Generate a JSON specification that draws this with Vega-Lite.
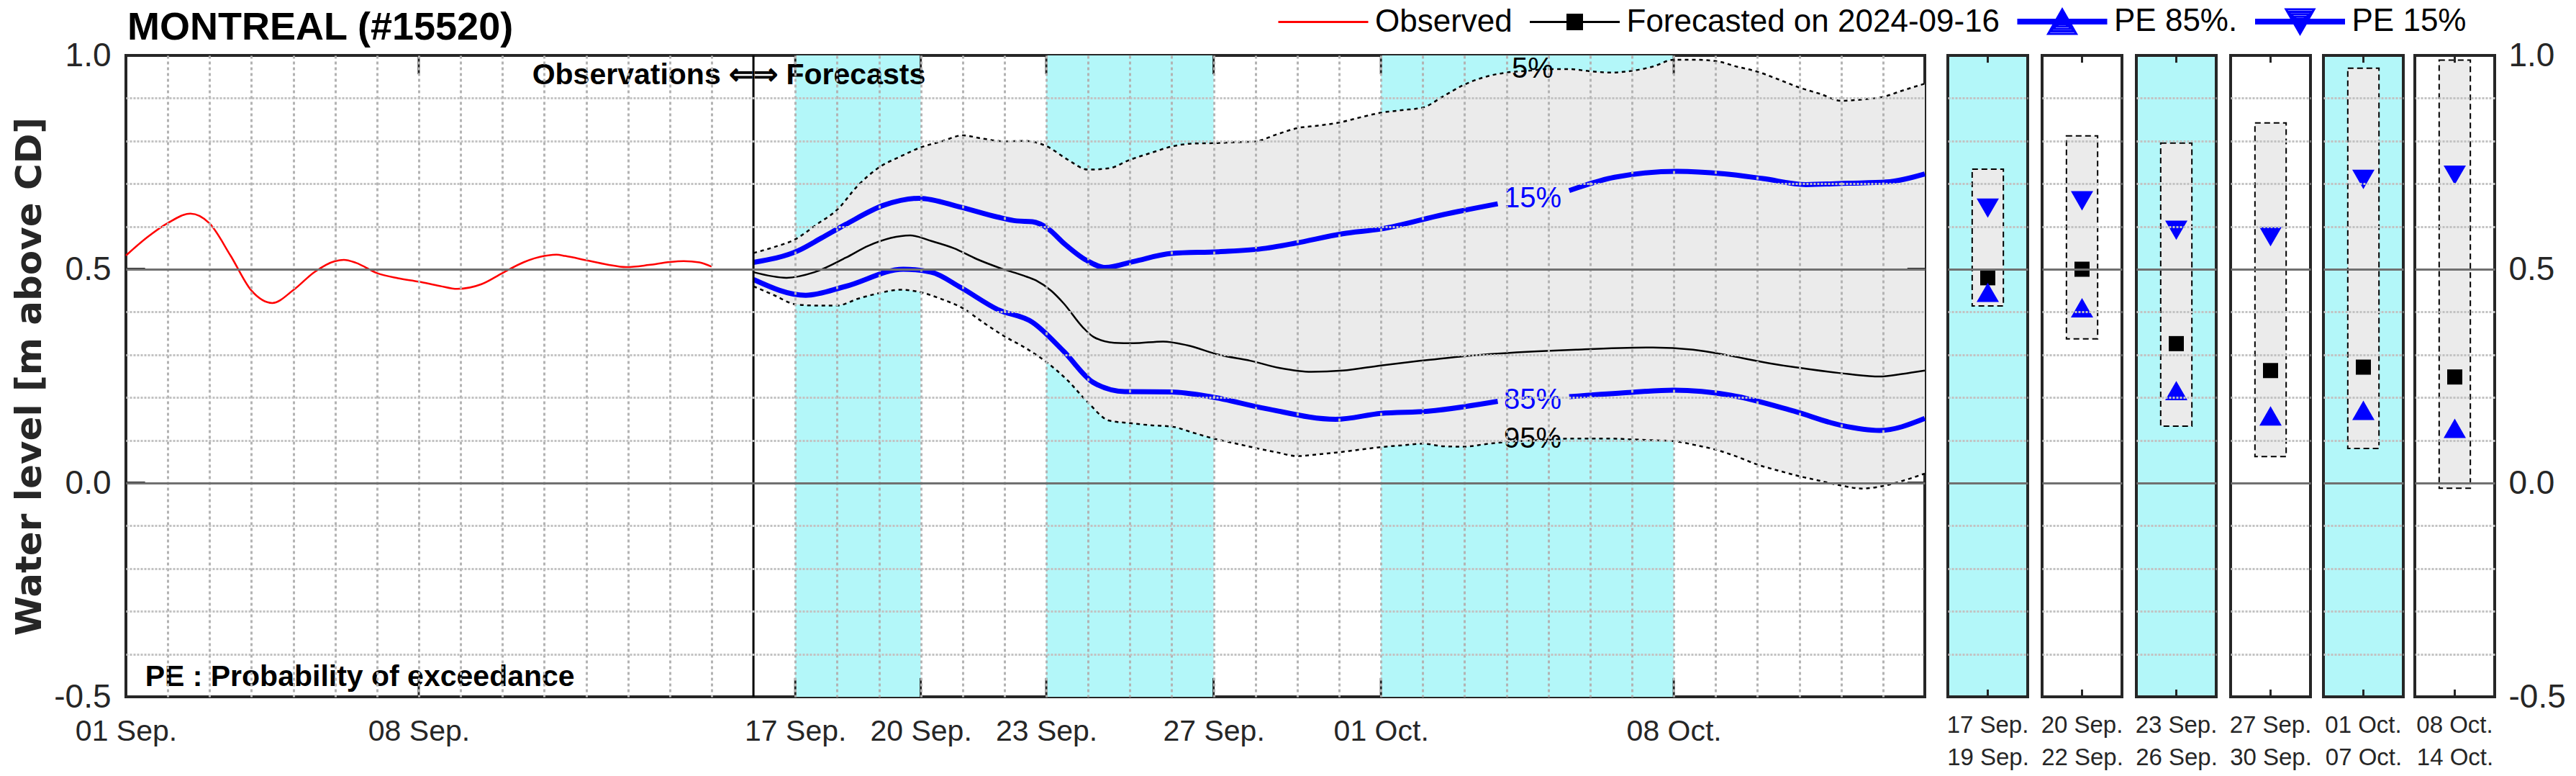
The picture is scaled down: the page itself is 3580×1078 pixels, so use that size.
{
 "$schema": "https://vega.github.io/schema/vega-lite/v6.json",
 "background": "white",
 "padding": {"left": 14, "top": 8, "right": 0, "bottom": 0},
 "config": {
  "font": "Liberation Sans",
  "view": {"stroke": "#262626", "strokeWidth": 4},
  "axis": {"labelColor": "#262626", "titleColor": "#262626"}
 },
 "datasets": {
  "cyan": [
   {"a": "2024-09-17T00:00", "b": "2024-09-20T00:00"},
   {"a": "2024-09-23T00:00", "b": "2024-09-27T00:00"},
   {"a": "2024-10-01T00:00", "b": "2024-10-08T00:00"}
  ],
  "ticks": [
   {"d": "2024-09-08T00:00"}, {"d": "2024-09-17T00:00"}, {"d": "2024-09-20T00:00"}, {"d": "2024-09-23T00:00"},
   {"d": "2024-09-27T00:00"}, {"d": "2024-10-01T00:00"}, {"d": "2024-10-08T00:00"}
  ],
  "divider": [{"d": "2024-09-16T00:00"}],
  "yticks": [
   {"v": 0, "a": "2024-09-01T00:00", "b": "2024-09-01T11:00"},
   {"v": 0.5, "a": "2024-09-01T00:00", "b": "2024-09-01T11:00"},
   {"v": 0, "a": "2024-10-13T14:00", "b": "2024-10-14T00:00"},
   {"v": 0.5, "a": "2024-10-13T14:00", "b": "2024-10-14T00:00"}
  ],
  "title": [{"t": "2024-09-01T00:00", "v": 1.064, "txt": "MONTREAL (#15520)"}],
  "notes": [
   {"t": "2024-09-16T00:00", "v": 0.953, "txt": "Observations ⇐", "k": "r"},
   {"t": "2024-09-16T00:00", "v": 0.953, "txt": "⇒ Forecasts", "k": "l"},
   {"t": "2024-09-01T11:00", "v": -0.455, "txt": "PE : Probability of exceedance", "k": "l"}
  ],
  "pct": [
   {"t": "2024-10-04T15:00", "v": 0.968, "txt": "5%"},
   {"t": "2024-10-04T15:00", "v": 0.665, "txt": "15%"},
   {"t": "2024-10-04T15:00", "v": 0.193, "txt": "85%"},
   {"t": "2024-10-04T15:00", "v": 0.103, "txt": "95%"}
  ],
  "band": [
   {"t": "2024-09-16T00:00", "lo": 0.460, "hi": 0.538},
   {"t": "2024-09-16T12:00", "lo": 0.439, "hi": 0.552},
   {"t": "2024-09-17T00:00", "lo": 0.418, "hi": 0.570},
   {"t": "2024-09-17T12:00", "lo": 0.415, "hi": 0.604},
   {"t": "2024-09-18T00:00", "lo": 0.415, "hi": 0.639},
   {"t": "2024-09-18T12:00", "lo": 0.431, "hi": 0.696},
   {"t": "2024-09-19T00:00", "lo": 0.444, "hi": 0.738},
   {"t": "2024-09-19T12:00", "lo": 0.452, "hi": 0.763},
   {"t": "2024-09-20T00:00", "lo": 0.446, "hi": 0.785},
   {"t": "2024-09-20T12:00", "lo": 0.430, "hi": 0.799},
   {"t": "2024-09-21T00:00", "lo": 0.409, "hi": 0.813},
   {"t": "2024-09-21T12:00", "lo": 0.375, "hi": 0.805},
   {"t": "2024-09-22T00:00", "lo": 0.343, "hi": 0.799},
   {"t": "2024-09-22T12:00", "lo": 0.316, "hi": 0.800},
   {"t": "2024-09-23T00:00", "lo": 0.283, "hi": 0.788},
   {"t": "2024-09-23T12:00", "lo": 0.241, "hi": 0.757},
   {"t": "2024-09-24T00:00", "lo": 0.188, "hi": 0.733},
   {"t": "2024-09-24T12:00", "lo": 0.146, "hi": 0.736},
   {"t": "2024-09-25T00:00", "lo": 0.140, "hi": 0.756},
   {"t": "2024-09-25T12:00", "lo": 0.135, "hi": 0.772},
   {"t": "2024-09-26T00:00", "lo": 0.132, "hi": 0.787},
   {"t": "2024-09-26T12:00", "lo": 0.118, "hi": 0.794},
   {"t": "2024-09-27T00:00", "lo": 0.104, "hi": 0.795},
   {"t": "2024-09-27T12:00", "lo": 0.093, "hi": 0.797},
   {"t": "2024-09-28T00:00", "lo": 0.082, "hi": 0.799},
   {"t": "2024-09-28T12:00", "lo": 0.072, "hi": 0.815},
   {"t": "2024-09-29T00:00", "lo": 0.063, "hi": 0.830},
   {"t": "2024-09-29T12:00", "lo": 0.067, "hi": 0.836},
   {"t": "2024-09-30T00:00", "lo": 0.072, "hi": 0.843},
   {"t": "2024-09-30T12:00", "lo": 0.078, "hi": 0.855},
   {"t": "2024-10-01T00:00", "lo": 0.084, "hi": 0.866},
   {"t": "2024-10-01T12:00", "lo": 0.088, "hi": 0.872},
   {"t": "2024-10-02T00:00", "lo": 0.092, "hi": 0.878},
   {"t": "2024-10-02T12:00", "lo": 0.086, "hi": 0.905},
   {"t": "2024-10-03T00:00", "lo": 0.085, "hi": 0.932},
   {"t": "2024-10-03T12:00", "lo": 0.091, "hi": 0.950},
   {"t": "2024-10-04T00:00", "lo": 0.096, "hi": 0.960},
   {"t": "2024-10-04T12:00", "lo": 0.099, "hi": 0.964},
   {"t": "2024-10-05T00:00", "lo": 0.101, "hi": 0.968},
   {"t": "2024-10-05T12:00", "lo": 0.104, "hi": 0.968},
   {"t": "2024-10-06T00:00", "lo": 0.104, "hi": 0.963},
   {"t": "2024-10-06T12:00", "lo": 0.104, "hi": 0.960},
   {"t": "2024-10-07T00:00", "lo": 0.102, "hi": 0.964},
   {"t": "2024-10-07T12:00", "lo": 0.100, "hi": 0.974},
   {"t": "2024-10-08T00:00", "lo": 0.098, "hi": 0.990},
   {"t": "2024-10-08T12:00", "lo": 0.089, "hi": 0.990},
   {"t": "2024-10-09T00:00", "lo": 0.078, "hi": 0.987},
   {"t": "2024-10-09T12:00", "lo": 0.062, "hi": 0.974},
   {"t": "2024-10-10T00:00", "lo": 0.043, "hi": 0.962},
   {"t": "2024-10-10T12:00", "lo": 0.029, "hi": 0.944},
   {"t": "2024-10-11T00:00", "lo": 0.016, "hi": 0.925},
   {"t": "2024-10-11T12:00", "lo": 0.005, "hi": 0.910},
   {"t": "2024-10-12T00:00", "lo": -0.006, "hi": 0.894},
   {"t": "2024-10-12T12:00", "lo": -0.013, "hi": 0.897},
   {"t": "2024-10-13T00:00", "lo": -0.007, "hi": 0.903},
   {"t": "2024-10-13T12:00", "lo": 0.006, "hi": 0.919},
   {"t": "2024-10-14T00:00", "lo": 0.022, "hi": 0.934}
  ],
  "lines": [
   {"t": "2024-09-01T00:00", "s": "Observed", "g": "a", "v": 0.532},
   {"t": "2024-09-01T12:00", "s": "Observed", "g": "a", "v": 0.574},
   {"t": "2024-09-02T00:00", "s": "Observed", "g": "a", "v": 0.608},
   {"t": "2024-09-02T13:00", "s": "Observed", "g": "a", "v": 0.630},
   {"t": "2024-09-03T00:00", "s": "Observed", "g": "a", "v": 0.607},
   {"t": "2024-09-03T12:00", "s": "Observed", "g": "a", "v": 0.532},
   {"t": "2024-09-04T00:00", "s": "Observed", "g": "a", "v": 0.450},
   {"t": "2024-09-04T12:00", "s": "Observed", "g": "a", "v": 0.421},
   {"t": "2024-09-05T00:00", "s": "Observed", "g": "a", "v": 0.451},
   {"t": "2024-09-05T12:00", "s": "Observed", "g": "a", "v": 0.493},
   {"t": "2024-09-06T00:00", "s": "Observed", "g": "a", "v": 0.519},
   {"t": "2024-09-06T05:00", "s": "Observed", "g": "a", "v": 0.522},
   {"t": "2024-09-06T12:00", "s": "Observed", "g": "a", "v": 0.515},
   {"t": "2024-09-07T00:00", "s": "Observed", "g": "a", "v": 0.491},
   {"t": "2024-09-07T12:00", "s": "Observed", "g": "a", "v": 0.479},
   {"t": "2024-09-08T00:00", "s": "Observed", "g": "a", "v": 0.471},
   {"t": "2024-09-08T12:00", "s": "Observed", "g": "a", "v": 0.461},
   {"t": "2024-09-08T22:00", "s": "Observed", "g": "a", "v": 0.454},
   {"t": "2024-09-09T12:00", "s": "Observed", "g": "a", "v": 0.465},
   {"t": "2024-09-10T00:00", "s": "Observed", "g": "a", "v": 0.491},
   {"t": "2024-09-10T12:00", "s": "Observed", "g": "a", "v": 0.516},
   {"t": "2024-09-11T00:00", "s": "Observed", "g": "a", "v": 0.531},
   {"t": "2024-09-11T07:00", "s": "Observed", "g": "a", "v": 0.534},
   {"t": "2024-09-11T12:00", "s": "Observed", "g": "a", "v": 0.531},
   {"t": "2024-09-12T00:00", "s": "Observed", "g": "a", "v": 0.521},
   {"t": "2024-09-12T12:00", "s": "Observed", "g": "a", "v": 0.511},
   {"t": "2024-09-12T23:00", "s": "Observed", "g": "a", "v": 0.505},
   {"t": "2024-09-13T12:00", "s": "Observed", "g": "a", "v": 0.510},
   {"t": "2024-09-14T00:00", "s": "Observed", "g": "a", "v": 0.517},
   {"t": "2024-09-14T08:00", "s": "Observed", "g": "a", "v": 0.519},
   {"t": "2024-09-14T17:00", "s": "Observed", "g": "a", "v": 0.516},
   {"t": "2024-09-15T00:00", "s": "Observed", "g": "a", "v": 0.506},
   {"t": "2024-09-16T00:00", "s": "Forecasted on 2024-09-16", "g": "a", "v": 0.493},
   {"t": "2024-09-16T19:00", "s": "Forecasted on 2024-09-16", "g": "a", "v": 0.480},
   {"t": "2024-09-17T11:00", "s": "Forecasted on 2024-09-16", "g": "a", "v": 0.493},
   {"t": "2024-09-18T05:00", "s": "Forecasted on 2024-09-16", "g": "a", "v": 0.527},
   {"t": "2024-09-18T18:00", "s": "Forecasted on 2024-09-16", "g": "a", "v": 0.555},
   {"t": "2024-09-19T18:00", "s": "Forecasted on 2024-09-16", "g": "a", "v": 0.579},
   {"t": "2024-09-20T06:00", "s": "Forecasted on 2024-09-16", "g": "a", "v": 0.566},
   {"t": "2024-09-20T19:00", "s": "Forecasted on 2024-09-16", "g": "a", "v": 0.549},
   {"t": "2024-09-21T08:00", "s": "Forecasted on 2024-09-16", "g": "a", "v": 0.524},
   {"t": "2024-09-21T22:00", "s": "Forecasted on 2024-09-16", "g": "a", "v": 0.502},
   {"t": "2024-09-22T11:00", "s": "Forecasted on 2024-09-16", "g": "a", "v": 0.485},
   {"t": "2024-09-22T18:00", "s": "Forecasted on 2024-09-16", "g": "a", "v": 0.474},
   {"t": "2024-09-23T03:00", "s": "Forecasted on 2024-09-16", "g": "a", "v": 0.449},
   {"t": "2024-09-23T10:00", "s": "Forecasted on 2024-09-16", "g": "a", "v": 0.420},
   {"t": "2024-09-23T21:00", "s": "Forecasted on 2024-09-16", "g": "a", "v": 0.364},
   {"t": "2024-09-24T03:00", "s": "Forecasted on 2024-09-16", "g": "a", "v": 0.342},
   {"t": "2024-09-24T15:00", "s": "Forecasted on 2024-09-16", "g": "a", "v": 0.328},
   {"t": "2024-09-25T02:00", "s": "Forecasted on 2024-09-16", "g": "a", "v": 0.327},
   {"t": "2024-09-25T19:00", "s": "Forecasted on 2024-09-16", "g": "a", "v": 0.331},
   {"t": "2024-09-26T09:00", "s": "Forecasted on 2024-09-16", "g": "a", "v": 0.322},
   {"t": "2024-09-27T03:00", "s": "Forecasted on 2024-09-16", "g": "a", "v": 0.300},
   {"t": "2024-09-27T21:00", "s": "Forecasted on 2024-09-16", "g": "a", "v": 0.286},
   {"t": "2024-09-28T14:00", "s": "Forecasted on 2024-09-16", "g": "a", "v": 0.269},
   {"t": "2024-09-29T08:00", "s": "Forecasted on 2024-09-16", "g": "a", "v": 0.260},
   {"t": "2024-09-30T02:00", "s": "Forecasted on 2024-09-16", "g": "a", "v": 0.263},
   {"t": "2024-10-01T00:00", "s": "Forecasted on 2024-09-16", "g": "a", "v": 0.275},
   {"t": "2024-10-01T23:00", "s": "Forecasted on 2024-09-16", "g": "a", "v": 0.286},
   {"t": "2024-10-03T01:00", "s": "Forecasted on 2024-09-16", "g": "a", "v": 0.297},
   {"t": "2024-10-04T18:00", "s": "Forecasted on 2024-09-16", "g": "a", "v": 0.308},
   {"t": "2024-10-05T16:00", "s": "Forecasted on 2024-09-16", "g": "a", "v": 0.312},
   {"t": "2024-10-07T12:00", "s": "Forecasted on 2024-09-16", "g": "a", "v": 0.317},
   {"t": "2024-10-08T11:00", "s": "Forecasted on 2024-09-16", "g": "a", "v": 0.312},
   {"t": "2024-10-09T09:00", "s": "Forecasted on 2024-09-16", "g": "a", "v": 0.297},
   {"t": "2024-10-10T07:00", "s": "Forecasted on 2024-09-16", "g": "a", "v": 0.280},
   {"t": "2024-10-11T06:00", "s": "Forecasted on 2024-09-16", "g": "a", "v": 0.266},
   {"t": "2024-10-12T04:00", "s": "Forecasted on 2024-09-16", "g": "a", "v": 0.255},
   {"t": "2024-10-12T22:00", "s": "Forecasted on 2024-09-16", "g": "a", "v": 0.249},
   {"t": "2024-10-13T11:00", "s": "Forecasted on 2024-09-16", "g": "a", "v": 0.255},
   {"t": "2024-10-14T00:00", "s": "Forecasted on 2024-09-16", "g": "a", "v": 0.263},
   {"t": "2024-09-16T00:00", "s": "PE 15%", "g": "a", "v": 0.516},
   {"t": "2024-09-17T02:00", "s": "PE 15%", "g": "a", "v": 0.544},
   {"t": "2024-09-17T15:00", "s": "PE 15%", "g": "a", "v": 0.573},
   {"t": "2024-09-18T05:00", "s": "PE 15%", "g": "a", "v": 0.605},
   {"t": "2024-09-19T03:00", "s": "PE 15%", "g": "a", "v": 0.650},
   {"t": "2024-09-19T23:00", "s": "PE 15%", "g": "a", "v": 0.666},
   {"t": "2024-09-20T23:00", "s": "PE 15%", "g": "a", "v": 0.645},
   {"t": "2024-09-21T20:00", "s": "PE 15%", "g": "a", "v": 0.622},
   {"t": "2024-09-22T07:00", "s": "PE 15%", "g": "a", "v": 0.613},
   {"t": "2024-09-22T16:00", "s": "PE 15%", "g": "a", "v": 0.611},
   {"t": "2024-09-23T01:00", "s": "PE 15%", "g": "a", "v": 0.595},
   {"t": "2024-09-23T10:00", "s": "PE 15%", "g": "a", "v": 0.561},
   {"t": "2024-09-23T23:00", "s": "PE 15%", "g": "a", "v": 0.521},
   {"t": "2024-09-24T10:00", "s": "PE 15%", "g": "a", "v": 0.504},
   {"t": "2024-09-25T02:00", "s": "PE 15%", "g": "a", "v": 0.518},
   {"t": "2024-09-26T00:00", "s": "PE 15%", "g": "a", "v": 0.537},
   {"t": "2024-09-27T03:00", "s": "PE 15%", "g": "a", "v": 0.541},
   {"t": "2024-09-28T06:00", "s": "PE 15%", "g": "a", "v": 0.549},
   {"t": "2024-09-28T23:00", "s": "PE 15%", "g": "a", "v": 0.561},
   {"t": "2024-09-30T02:00", "s": "PE 15%", "g": "a", "v": 0.583},
   {"t": "2024-10-01T00:00", "s": "PE 15%", "g": "a", "v": 0.594},
   {"t": "2024-10-02T12:00", "s": "PE 15%", "g": "a", "v": 0.628},
   {"t": "2024-10-03T19:00", "s": "PE 15%", "g": "a", "v": 0.653},
   {"t": "2024-10-05T12:00", "s": "PE 15%", "g": "b", "v": 0.684},
   {"t": "2024-10-06T14:00", "s": "PE 15%", "g": "b", "v": 0.715},
   {"t": "2024-10-08T02:00", "s": "PE 15%", "g": "b", "v": 0.729},
   {"t": "2024-10-09T05:00", "s": "PE 15%", "g": "b", "v": 0.723},
   {"t": "2024-10-10T03:00", "s": "PE 15%", "g": "b", "v": 0.712},
   {"t": "2024-10-11T04:00", "s": "PE 15%", "g": "b", "v": 0.698},
   {"t": "2024-10-12T04:00", "s": "PE 15%", "g": "b", "v": 0.701},
   {"t": "2024-10-13T02:00", "s": "PE 15%", "g": "b", "v": 0.704},
   {"t": "2024-10-14T00:00", "s": "PE 15%", "g": "b", "v": 0.723},
   {"t": "2024-09-16T00:00", "s": "PE 85%.", "g": "a", "v": 0.476},
   {"t": "2024-09-17T06:00", "s": "PE 85%.", "g": "a", "v": 0.439},
   {"t": "2024-09-18T05:00", "s": "PE 85%.", "g": "a", "v": 0.460},
   {"t": "2024-09-19T14:00", "s": "PE 85%.", "g": "a", "v": 0.500},
   {"t": "2024-09-20T06:00", "s": "PE 85%.", "g": "a", "v": 0.493},
   {"t": "2024-09-20T23:00", "s": "PE 85%.", "g": "a", "v": 0.457},
   {"t": "2024-09-21T20:00", "s": "PE 85%.", "g": "a", "v": 0.406},
   {"t": "2024-09-22T16:00", "s": "PE 85%.", "g": "a", "v": 0.376},
   {"t": "2024-09-23T10:00", "s": "PE 85%.", "g": "a", "v": 0.308},
   {"t": "2024-09-24T03:00", "s": "PE 85%.", "g": "a", "v": 0.235},
   {"t": "2024-09-24T21:00", "s": "PE 85%.", "g": "a", "v": 0.214},
   {"t": "2024-09-26T00:00", "s": "PE 85%.", "g": "a", "v": 0.213},
   {"t": "2024-09-26T22:00", "s": "PE 85%.", "g": "a", "v": 0.202},
   {"t": "2024-09-28T06:00", "s": "PE 85%.", "g": "a", "v": 0.174},
   {"t": "2024-09-29T22:00", "s": "PE 85%.", "g": "a", "v": 0.149},
   {"t": "2024-10-01T00:00", "s": "PE 85%.", "g": "a", "v": 0.163},
   {"t": "2024-10-02T03:00", "s": "PE 85%.", "g": "a", "v": 0.168},
   {"t": "2024-10-03T19:00", "s": "PE 85%.", "g": "a", "v": 0.191},
   {"t": "2024-10-05T12:00", "s": "PE 85%.", "g": "b", "v": 0.202},
   {"t": "2024-10-06T19:00", "s": "PE 85%.", "g": "b", "v": 0.211},
   {"t": "2024-10-08T00:00", "s": "PE 85%.", "g": "b", "v": 0.217},
   {"t": "2024-10-09T09:00", "s": "PE 85%.", "g": "b", "v": 0.205},
   {"t": "2024-10-10T21:00", "s": "PE 85%.", "g": "b", "v": 0.168},
   {"t": "2024-10-12T00:00", "s": "PE 85%.", "g": "b", "v": 0.135},
   {"t": "2024-10-12T22:00", "s": "PE 85%.", "g": "b", "v": 0.123},
   {"t": "2024-10-14T00:00", "s": "PE 85%.", "g": "b", "v": 0.151}
  ],
  "panels": [
   {"p": "17 Sep.", "lo": 0.414, "hi": 0.734, "m": 0.480, "q85": 0.446, "q15": 0.643},
   {"p": "20 Sep.", "lo": 0.337, "hi": 0.812, "m": 0.500, "q85": 0.410, "q15": 0.660},
   {"p": "23 Sep.", "lo": 0.133, "hi": 0.795, "m": 0.326, "q85": 0.216, "q15": 0.591},
   {"p": "27 Sep.", "lo": 0.062, "hi": 0.842, "m": 0.263, "q85": 0.157, "q15": 0.576},
   {"p": "01 Oct.", "lo": 0.081, "hi": 0.970, "m": 0.271, "q85": 0.170, "q15": 0.710},
   {"p": "08 Oct.", "lo": -0.012, "hi": 0.989, "m": 0.248, "q85": 0.128, "q15": 0.720}
  ]
 },
 "spacing": 12,
 "hconcat": [
  {
   "width": 2500, "height": 891,
   "layer": [
    {"data": {"name": "cyan"}, "mark": {"type": "rect", "color": "#b3f7f9"},
     "encoding": {
      "x": {"field": "a", "type": "temporal",
       "scale": {"domain": ["2024-09-01T00:00", "2024-10-14T00:00"], "nice": false},
       "axis": {"title": null, "tickCount": {"interval": "day", "step": 1},
        "grid": true, "gridColor": "#b3b3b3", "gridWidth": 3, "gridDash": [4, 4],
        "gridOpacity": {"condition": {"test": "indexof(['01 Sep','16 Sep','14 Oct'], timeFormat(datum.value, '%d %b')) >= 0", "value": 0}, "value": 1},
        "ticks": false, "domain": false,
        "labelExpr": "indexof(['01 Sep','08 Sep','17 Sep','20 Sep','23 Sep','27 Sep','01 Oct','08 Oct'], timeFormat(datum.value, '%d %b')) >= 0 ? timeFormat(datum.value, '%d %b') + '.' : ''",
        "labelFontSize": 41, "labelPadding": 28, "labelOverlap": false, "labelFlush": false, "labelBound": false, "zindex": 1}},
      "x2": {"field": "b"}}},
    {"data": {"name": "band"}, "mark": {"type": "area", "color": "#ebebeb", "opacity": 1, "interpolate": "monotone"},
     "encoding": {
      "x": {"field": "t", "type": "temporal"},
      "y": {"field": "hi", "type": "quantitative",
       "scale": {"domain": [-0.5, 1], "nice": false, "zero": false},
       "axis": {"title": "Water level [m above CD]", "titleFont": "DejaVu Sans", "titleFontWeight": "bold", "titleFontSize": 50, "titlePadding": 8,
        "values": [-0.5, -0.4, -0.3, -0.2, -0.1, 0, 0.1, 0.2, 0.3, 0.4, 0.5, 0.6, 0.7, 0.8, 0.9, 1.0],
        "labelExpr": "datum.value > 0.95 ? '1.0' : abs(datum.value - 0.5) < 0.01 ? '0.5' : abs(datum.value) < 0.01 ? '0.0' : datum.value < -0.45 ? '-0.5' : ''",
        "labelFontSize": 46, "labelPadding": 21, "labelOverlap": false, "labelFlush": false, "labelBound": false,
        "ticks": false, "domain": false, "grid": true, "gridWidth": 3,
        "gridColor": {"condition": {"test": "abs(datum.value*2 - round(datum.value*2)) < 0.001", "value": "#707070"}, "value": "#c2c2c2"},
        "gridDash": {"condition": {"test": "abs(datum.value*2 - round(datum.value*2)) < 0.001", "value": []}, "value": [3, 2]},
        "gridOpacity": {"condition": {"test": "datum.value < -0.45 || datum.value > 0.95", "value": 0}, "value": 1},
        "zindex": 1}},
      "y2": {"field": "lo"}}},
    {"data": {"name": "band"}, "mark": {"type": "line", "color": "black", "strokeWidth": 2.5, "strokeDash": [5, 5], "interpolate": "monotone"},
     "encoding": {"x": {"field": "t", "type": "temporal"}, "y": {"field": "hi", "type": "quantitative"}}},
    {"data": {"name": "band"}, "mark": {"type": "line", "color": "black", "strokeWidth": 2.5, "strokeDash": [5, 5], "interpolate": "monotone"},
     "encoding": {"x": {"field": "t", "type": "temporal"}, "y": {"field": "lo", "type": "quantitative"}}},
    {"data": {"name": "lines"}, "mark": {"type": "line", "interpolate": "monotone"},
     "encoding": {
      "x": {"field": "t", "type": "temporal"},
      "y": {"field": "v", "type": "quantitative"},
      "detail": {"field": "g", "type": "nominal"},
      "strokeWidth": {"condition": {"test": "indexof(datum.s, 'PE') === 0", "value": 7}, "value": 2.5},
      "color": {"field": "s", "type": "nominal",
       "scale": {"domain": ["Observed", "Forecasted on 2024-09-16", "PE 85%.", "PE 15%"], "range": ["red", "black", "blue", "blue"]},
       "legend": {"orient": "none", "legendX": 1614, "legendY": -69, "direction": "horizontal", "title": null,
        "symbolSize": 400, "symbolOffset": 28, "symbolStrokeWidth": 3,
        "labelFontSize": 44, "labelFont": "Liberation Sans", "labelColor": "black",
        "labelOffset": 50, "columnPadding": 17.5, "padding": 0, "labelLimit": 1000}}}},
    {"data": {"name": "lines"}, "transform": [{"filter": "datum.v > 5"}],
     "mark": {"type": "point", "filled": false, "size": 400, "strokeWidth": 3, "opacity": 1},
     "encoding": {
      "x": {"field": "t", "type": "temporal"},
      "y": {"field": "v", "type": "quantitative"},
      "color": {"field": "s", "type": "nominal",
       "scale": {"domain": ["Observed", "Forecasted on 2024-09-16", "PE 85%.", "PE 15%"], "range": ["red", "black", "blue", "blue"]},
       "legend": {"orient": "none", "legendX": 1614, "legendY": -69, "direction": "horizontal", "title": null,
        "symbolSize": 400, "symbolOffset": 28, "symbolStrokeWidth": 3,
        "labelFontSize": 44, "labelFont": "Liberation Sans", "labelColor": "black",
        "labelOffset": 50, "columnPadding": 17.5, "padding": 0, "labelLimit": 1000}},
      "shape": {"field": "s", "type": "nominal",
       "scale": {"domain": ["Observed", "Forecasted on 2024-09-16", "PE 85%.", "PE 15%"],
        "range": [
         "M-6.25,0H6.25",
         "M-6.25,0H6.25M-1,-1H1V1H-1ZM-0.7,-0.7H0.7V0.7H-0.7ZM-0.4,-0.4H0.4V0.4H-0.4ZM-0.1,-0.1H0.1V0.1H-0.1Z",
         "M-6.25,-0.25H6.25M-6.25,0H6.25M-6.25,0.25H6.25M0,-1.7L1.95,1.7L-1.95,1.7ZM0,-1.36L1.56,1.36L-1.56,1.36ZM0,-1.02L1.17,1.02L-1.17,1.02ZM0,-0.68L0.78,0.68L-0.78,0.68ZM0,-0.34L0.39,0.34L-0.39,0.34Z",
         "M-6.25,-0.25H6.25M-6.25,0H6.25M-6.25,0.25H6.25M0,1.7L1.95,-1.7L-1.95,-1.7ZM0,1.36L1.56,-1.36L-1.56,-1.36ZM0,1.02L1.17,-1.02L-1.17,-1.02ZM0,0.68L0.78,-0.68L-0.78,-0.68ZM0,0.34L0.39,-0.34L-0.39,-0.34Z"
        ]},
       "legend": {"orient": "none", "legendX": 1614, "legendY": -69, "direction": "horizontal", "title": null,
        "symbolSize": 400, "symbolOffset": 28, "symbolStrokeWidth": 3,
        "labelFontSize": 44, "labelFont": "Liberation Sans", "labelColor": "black",
        "labelOffset": 50, "columnPadding": 17.5, "padding": 0, "labelLimit": 1000}}}},
    {"data": {"name": "divider"}, "mark": {"type": "rule", "color": "black", "strokeWidth": 3},
     "encoding": {"x": {"field": "d", "type": "temporal"}}},
    {"data": {"name": "ticks"}, "mark": {"type": "rule", "color": "#262626", "strokeWidth": 3},
     "encoding": {"x": {"field": "d", "type": "temporal"}, "y": {"datum": 1}, "y2": {"datum": 0.956}}},
    {"data": {"name": "ticks"}, "mark": {"type": "rule", "color": "#262626", "strokeWidth": 3},
     "encoding": {"x": {"field": "d", "type": "temporal"}, "y": {"datum": -0.5}, "y2": {"datum": -0.456}}},
    {"data": {"name": "yticks"}, "mark": {"type": "rule", "color": "#262626", "strokeWidth": 4},
     "encoding": {"x": {"field": "a", "type": "temporal"}, "x2": {"field": "b"}, "y": {"field": "v", "type": "quantitative"}}},
    {"data": {"name": "pct"}, "mark": {"type": "text", "fontSize": 40, "align": "center", "baseline": "middle"},
     "encoding": {"x": {"field": "t", "type": "temporal"}, "y": {"field": "v", "type": "quantitative"}, "text": {"field": "txt"},
      "color": {"condition": {"test": "datum.txt === '15%' || datum.txt === '85%'", "value": "blue"}, "value": "black"}}},
    {"data": {"name": "notes"}, "transform": [{"filter": "datum.k === 'r'"}],
     "mark": {"type": "text", "align": "right", "baseline": "middle", "fontSize": 41, "fontWeight": "bold", "color": "black"},
     "encoding": {"x": {"field": "t", "type": "temporal"}, "y": {"field": "v", "type": "quantitative"}, "text": {"field": "txt"}}},
    {"data": {"name": "notes"}, "transform": [{"filter": "datum.k === 'l'"}],
     "mark": {"type": "text", "align": "left", "baseline": "middle", "fontSize": 41, "fontWeight": "bold", "color": "black"},
     "encoding": {"x": {"field": "t", "type": "temporal"}, "y": {"field": "v", "type": "quantitative"}, "text": {"field": "txt"}}},
    {"data": {"name": "title"},
     "mark": {"type": "text", "align": "left", "baseline": "middle", "fontSize": 54, "fontWeight": "bold", "color": "black", "dx": 2},
     "encoding": {"x": {"field": "t", "type": "temporal"}, "y": {"field": "v", "type": "quantitative"}, "text": {"field": "txt"}}}
   ]
  },
  {
   "width": 111, "height": 891,
   "view": {"fill": "#b3f7f9"},
   "data": {"name": "panels"},
   "transform": [{"filter": "datum.p === '17 Sep.'"}],
   "layer": [
    {"mark": {"type": "bar", "fill": "#ebebeb", "stroke": "black", "strokeWidth": 2, "strokeDash": [8, 5]},
     "encoding": {
      "x": {"field": "p", "type": "nominal", "scale": {"paddingInner": 0, "paddingOuter": 0.78},
       "axis": {"title": "19 Sep.", "titleFontSize": 33, "titleFontWeight": "normal", "titlePadding": 12, "labelAngle": 0, "labelFontSize": 33, "labelPadding": 23, "ticks": false, "domain": false, "grid": false}},
      "y": {"field": "lo", "type": "quantitative", "scale": {"domain": [-0.5, 1], "nice": false, "zero": false},
       "axis": {"title": null, "labels": false, "ticks": false, "domain": false,
        "values": [-0.5, -0.4, -0.3, -0.2, -0.1, 0, 0.1, 0.2, 0.3, 0.4, 0.5, 0.6, 0.7, 0.8, 0.9, 1.0],
        "grid": true, "gridWidth": 3,
        "gridColor": {"condition": {"test": "abs(datum.value*2 - round(datum.value*2)) < 0.001", "value": "#707070"}, "value": "#c2c2c2"},
        "gridDash": {"condition": {"test": "abs(datum.value*2 - round(datum.value*2)) < 0.001", "value": []}, "value": [3, 2]},
        "gridOpacity": {"condition": {"test": "datum.value < -0.45 || datum.value > 0.95", "value": 0}, "value": 1},
        "zindex": 1}},
      "y2": {"field": "hi"}}},
    {"mark": {"type": "point", "shape": "square", "filled": true, "color": "black", "size": 441, "opacity": 1},
     "encoding": {"x": {"field": "p", "type": "nominal"}, "y": {"field": "m", "type": "quantitative"}}},
    {"mark": {"type": "point", "shape": "triangle-up", "filled": true, "color": "blue", "size": 960, "opacity": 1},
     "encoding": {"x": {"field": "p", "type": "nominal"}, "y": {"field": "q85", "type": "quantitative"}}},
    {"mark": {"type": "point", "shape": "triangle-down", "filled": true, "color": "blue", "size": 960, "opacity": 1},
     "encoding": {"x": {"field": "p", "type": "nominal"}, "y": {"field": "q15", "type": "quantitative"}}},
    {"mark": {"type": "rule", "color": "#262626", "strokeWidth": 3},
     "encoding": {"x": {"field": "p", "type": "nominal"}, "y": {"datum": 1}, "y2": {"datum": 0.983}}},
    {"mark": {"type": "rule", "color": "#262626", "strokeWidth": 3},
     "encoding": {"x": {"field": "p", "type": "nominal"}, "y": {"datum": -0.5}, "y2": {"datum": -0.483}}}
   ]
  },
  {
   "width": 111, "height": 891,
   "data": {"name": "panels"},
   "transform": [{"filter": "datum.p === '20 Sep.'"}],
   "layer": [
    {"mark": {"type": "bar", "fill": "#ebebeb", "stroke": "black", "strokeWidth": 2, "strokeDash": [8, 5]},
     "encoding": {
      "x": {"field": "p", "type": "nominal", "scale": {"paddingInner": 0, "paddingOuter": 0.78},
       "axis": {"title": "22 Sep.", "titleFontSize": 33, "titleFontWeight": "normal", "titlePadding": 12, "labelAngle": 0, "labelFontSize": 33, "labelPadding": 23, "ticks": false, "domain": false, "grid": false}},
      "y": {"field": "lo", "type": "quantitative", "scale": {"domain": [-0.5, 1], "nice": false, "zero": false},
       "axis": {"title": null, "labels": false, "ticks": false, "domain": false,
        "values": [-0.5, -0.4, -0.3, -0.2, -0.1, 0, 0.1, 0.2, 0.3, 0.4, 0.5, 0.6, 0.7, 0.8, 0.9, 1.0],
        "grid": true, "gridWidth": 3,
        "gridColor": {"condition": {"test": "abs(datum.value*2 - round(datum.value*2)) < 0.001", "value": "#707070"}, "value": "#c2c2c2"},
        "gridDash": {"condition": {"test": "abs(datum.value*2 - round(datum.value*2)) < 0.001", "value": []}, "value": [3, 2]},
        "gridOpacity": {"condition": {"test": "datum.value < -0.45 || datum.value > 0.95", "value": 0}, "value": 1},
        "zindex": 1}},
      "y2": {"field": "hi"}}},
    {"mark": {"type": "point", "shape": "square", "filled": true, "color": "black", "size": 441, "opacity": 1},
     "encoding": {"x": {"field": "p", "type": "nominal"}, "y": {"field": "m", "type": "quantitative"}}},
    {"mark": {"type": "point", "shape": "triangle-up", "filled": true, "color": "blue", "size": 960, "opacity": 1},
     "encoding": {"x": {"field": "p", "type": "nominal"}, "y": {"field": "q85", "type": "quantitative"}}},
    {"mark": {"type": "point", "shape": "triangle-down", "filled": true, "color": "blue", "size": 960, "opacity": 1},
     "encoding": {"x": {"field": "p", "type": "nominal"}, "y": {"field": "q15", "type": "quantitative"}}},
    {"mark": {"type": "rule", "color": "#262626", "strokeWidth": 3},
     "encoding": {"x": {"field": "p", "type": "nominal"}, "y": {"datum": 1}, "y2": {"datum": 0.983}}},
    {"mark": {"type": "rule", "color": "#262626", "strokeWidth": 3},
     "encoding": {"x": {"field": "p", "type": "nominal"}, "y": {"datum": -0.5}, "y2": {"datum": -0.483}}}
   ]
  },
  {
   "width": 111, "height": 891,
   "view": {"fill": "#b3f7f9"},
   "data": {"name": "panels"},
   "transform": [{"filter": "datum.p === '23 Sep.'"}],
   "layer": [
    {"mark": {"type": "bar", "fill": "#ebebeb", "stroke": "black", "strokeWidth": 2, "strokeDash": [8, 5]},
     "encoding": {
      "x": {"field": "p", "type": "nominal", "scale": {"paddingInner": 0, "paddingOuter": 0.78},
       "axis": {"title": "26 Sep.", "titleFontSize": 33, "titleFontWeight": "normal", "titlePadding": 12, "labelAngle": 0, "labelFontSize": 33, "labelPadding": 23, "ticks": false, "domain": false, "grid": false}},
      "y": {"field": "lo", "type": "quantitative", "scale": {"domain": [-0.5, 1], "nice": false, "zero": false},
       "axis": {"title": null, "labels": false, "ticks": false, "domain": false,
        "values": [-0.5, -0.4, -0.3, -0.2, -0.1, 0, 0.1, 0.2, 0.3, 0.4, 0.5, 0.6, 0.7, 0.8, 0.9, 1.0],
        "grid": true, "gridWidth": 3,
        "gridColor": {"condition": {"test": "abs(datum.value*2 - round(datum.value*2)) < 0.001", "value": "#707070"}, "value": "#c2c2c2"},
        "gridDash": {"condition": {"test": "abs(datum.value*2 - round(datum.value*2)) < 0.001", "value": []}, "value": [3, 2]},
        "gridOpacity": {"condition": {"test": "datum.value < -0.45 || datum.value > 0.95", "value": 0}, "value": 1},
        "zindex": 1}},
      "y2": {"field": "hi"}}},
    {"mark": {"type": "point", "shape": "square", "filled": true, "color": "black", "size": 441, "opacity": 1},
     "encoding": {"x": {"field": "p", "type": "nominal"}, "y": {"field": "m", "type": "quantitative"}}},
    {"mark": {"type": "point", "shape": "triangle-up", "filled": true, "color": "blue", "size": 960, "opacity": 1},
     "encoding": {"x": {"field": "p", "type": "nominal"}, "y": {"field": "q85", "type": "quantitative"}}},
    {"mark": {"type": "point", "shape": "triangle-down", "filled": true, "color": "blue", "size": 960, "opacity": 1},
     "encoding": {"x": {"field": "p", "type": "nominal"}, "y": {"field": "q15", "type": "quantitative"}}},
    {"mark": {"type": "rule", "color": "#262626", "strokeWidth": 3},
     "encoding": {"x": {"field": "p", "type": "nominal"}, "y": {"datum": 1}, "y2": {"datum": 0.983}}},
    {"mark": {"type": "rule", "color": "#262626", "strokeWidth": 3},
     "encoding": {"x": {"field": "p", "type": "nominal"}, "y": {"datum": -0.5}, "y2": {"datum": -0.483}}}
   ]
  },
  {
   "width": 111, "height": 891,
   "data": {"name": "panels"},
   "transform": [{"filter": "datum.p === '27 Sep.'"}],
   "layer": [
    {"mark": {"type": "bar", "fill": "#ebebeb", "stroke": "black", "strokeWidth": 2, "strokeDash": [8, 5]},
     "encoding": {
      "x": {"field": "p", "type": "nominal", "scale": {"paddingInner": 0, "paddingOuter": 0.78},
       "axis": {"title": "30 Sep.", "titleFontSize": 33, "titleFontWeight": "normal", "titlePadding": 12, "labelAngle": 0, "labelFontSize": 33, "labelPadding": 23, "ticks": false, "domain": false, "grid": false}},
      "y": {"field": "lo", "type": "quantitative", "scale": {"domain": [-0.5, 1], "nice": false, "zero": false},
       "axis": {"title": null, "labels": false, "ticks": false, "domain": false,
        "values": [-0.5, -0.4, -0.3, -0.2, -0.1, 0, 0.1, 0.2, 0.3, 0.4, 0.5, 0.6, 0.7, 0.8, 0.9, 1.0],
        "grid": true, "gridWidth": 3,
        "gridColor": {"condition": {"test": "abs(datum.value*2 - round(datum.value*2)) < 0.001", "value": "#707070"}, "value": "#c2c2c2"},
        "gridDash": {"condition": {"test": "abs(datum.value*2 - round(datum.value*2)) < 0.001", "value": []}, "value": [3, 2]},
        "gridOpacity": {"condition": {"test": "datum.value < -0.45 || datum.value > 0.95", "value": 0}, "value": 1},
        "zindex": 1}},
      "y2": {"field": "hi"}}},
    {"mark": {"type": "point", "shape": "square", "filled": true, "color": "black", "size": 441, "opacity": 1},
     "encoding": {"x": {"field": "p", "type": "nominal"}, "y": {"field": "m", "type": "quantitative"}}},
    {"mark": {"type": "point", "shape": "triangle-up", "filled": true, "color": "blue", "size": 960, "opacity": 1},
     "encoding": {"x": {"field": "p", "type": "nominal"}, "y": {"field": "q85", "type": "quantitative"}}},
    {"mark": {"type": "point", "shape": "triangle-down", "filled": true, "color": "blue", "size": 960, "opacity": 1},
     "encoding": {"x": {"field": "p", "type": "nominal"}, "y": {"field": "q15", "type": "quantitative"}}},
    {"mark": {"type": "rule", "color": "#262626", "strokeWidth": 3},
     "encoding": {"x": {"field": "p", "type": "nominal"}, "y": {"datum": 1}, "y2": {"datum": 0.983}}},
    {"mark": {"type": "rule", "color": "#262626", "strokeWidth": 3},
     "encoding": {"x": {"field": "p", "type": "nominal"}, "y": {"datum": -0.5}, "y2": {"datum": -0.483}}}
   ]
  },
  {
   "width": 111, "height": 891,
   "view": {"fill": "#b3f7f9"},
   "data": {"name": "panels"},
   "transform": [{"filter": "datum.p === '01 Oct.'"}],
   "layer": [
    {"mark": {"type": "bar", "fill": "#ebebeb", "stroke": "black", "strokeWidth": 2, "strokeDash": [8, 5]},
     "encoding": {
      "x": {"field": "p", "type": "nominal", "scale": {"paddingInner": 0, "paddingOuter": 0.78},
       "axis": {"title": "07 Oct.", "titleFontSize": 33, "titleFontWeight": "normal", "titlePadding": 12, "labelAngle": 0, "labelFontSize": 33, "labelPadding": 23, "ticks": false, "domain": false, "grid": false}},
      "y": {"field": "lo", "type": "quantitative", "scale": {"domain": [-0.5, 1], "nice": false, "zero": false},
       "axis": {"title": null, "labels": false, "ticks": false, "domain": false,
        "values": [-0.5, -0.4, -0.3, -0.2, -0.1, 0, 0.1, 0.2, 0.3, 0.4, 0.5, 0.6, 0.7, 0.8, 0.9, 1.0],
        "grid": true, "gridWidth": 3,
        "gridColor": {"condition": {"test": "abs(datum.value*2 - round(datum.value*2)) < 0.001", "value": "#707070"}, "value": "#c2c2c2"},
        "gridDash": {"condition": {"test": "abs(datum.value*2 - round(datum.value*2)) < 0.001", "value": []}, "value": [3, 2]},
        "gridOpacity": {"condition": {"test": "datum.value < -0.45 || datum.value > 0.95", "value": 0}, "value": 1},
        "zindex": 1}},
      "y2": {"field": "hi"}}},
    {"mark": {"type": "point", "shape": "square", "filled": true, "color": "black", "size": 441, "opacity": 1},
     "encoding": {"x": {"field": "p", "type": "nominal"}, "y": {"field": "m", "type": "quantitative"}}},
    {"mark": {"type": "point", "shape": "triangle-up", "filled": true, "color": "blue", "size": 960, "opacity": 1},
     "encoding": {"x": {"field": "p", "type": "nominal"}, "y": {"field": "q85", "type": "quantitative"}}},
    {"mark": {"type": "point", "shape": "triangle-down", "filled": true, "color": "blue", "size": 960, "opacity": 1},
     "encoding": {"x": {"field": "p", "type": "nominal"}, "y": {"field": "q15", "type": "quantitative"}}},
    {"mark": {"type": "rule", "color": "#262626", "strokeWidth": 3},
     "encoding": {"x": {"field": "p", "type": "nominal"}, "y": {"datum": 1}, "y2": {"datum": 0.983}}},
    {"mark": {"type": "rule", "color": "#262626", "strokeWidth": 3},
     "encoding": {"x": {"field": "p", "type": "nominal"}, "y": {"datum": -0.5}, "y2": {"datum": -0.483}}}
   ]
  },
  {
   "width": 111, "height": 891,
   "data": {"name": "panels"},
   "transform": [{"filter": "datum.p === '08 Oct.'"}],
   "layer": [
    {"mark": {"type": "bar", "fill": "#ebebeb", "stroke": "black", "strokeWidth": 2, "strokeDash": [8, 5]},
     "encoding": {
      "x": {"field": "p", "type": "nominal", "scale": {"paddingInner": 0, "paddingOuter": 0.78},
       "axis": {"title": "14 Oct.", "titleFontSize": 33, "titleFontWeight": "normal", "titlePadding": 12, "labelAngle": 0, "labelFontSize": 33, "labelPadding": 23, "ticks": false, "domain": false, "grid": false}},
      "y": {"field": "lo", "type": "quantitative", "scale": {"domain": [-0.5, 1], "nice": false, "zero": false},
       "axis": {"title": null, "orient": "right", "ticks": false, "domain": false,
        "values": [-0.5, -0.4, -0.3, -0.2, -0.1, 0, 0.1, 0.2, 0.3, 0.4, 0.5, 0.6, 0.7, 0.8, 0.9, 1.0],
        "labelExpr": "datum.value > 0.95 ? '1.0' : abs(datum.value - 0.5) < 0.01 ? '0.5' : abs(datum.value) < 0.01 ? '0.0' : datum.value < -0.45 ? '-0.5' : ''",
        "labelFontSize": 46, "labelPadding": 19, "labelOverlap": false, "labelFlush": false, "labelBound": false,
        "grid": true, "gridWidth": 3,
        "gridColor": {"condition": {"test": "abs(datum.value*2 - round(datum.value*2)) < 0.001", "value": "#707070"}, "value": "#c2c2c2"},
        "gridDash": {"condition": {"test": "abs(datum.value*2 - round(datum.value*2)) < 0.001", "value": []}, "value": [3, 2]},
        "gridOpacity": {"condition": {"test": "datum.value < -0.45 || datum.value > 0.95", "value": 0}, "value": 1},
        "zindex": 1}},
      "y2": {"field": "hi"}}},
    {"mark": {"type": "point", "shape": "square", "filled": true, "color": "black", "size": 441, "opacity": 1},
     "encoding": {"x": {"field": "p", "type": "nominal"}, "y": {"field": "m", "type": "quantitative"}}},
    {"mark": {"type": "point", "shape": "triangle-up", "filled": true, "color": "blue", "size": 960, "opacity": 1},
     "encoding": {"x": {"field": "p", "type": "nominal"}, "y": {"field": "q85", "type": "quantitative"}}},
    {"mark": {"type": "point", "shape": "triangle-down", "filled": true, "color": "blue", "size": 960, "opacity": 1},
     "encoding": {"x": {"field": "p", "type": "nominal"}, "y": {"field": "q15", "type": "quantitative"}}},
    {"mark": {"type": "rule", "color": "#262626", "strokeWidth": 3},
     "encoding": {"x": {"field": "p", "type": "nominal"}, "y": {"datum": 1}, "y2": {"datum": 0.983}}},
    {"mark": {"type": "rule", "color": "#262626", "strokeWidth": 3},
     "encoding": {"x": {"field": "p", "type": "nominal"}, "y": {"datum": -0.5}, "y2": {"datum": -0.483}}}
   ]
  }
 ]
}
